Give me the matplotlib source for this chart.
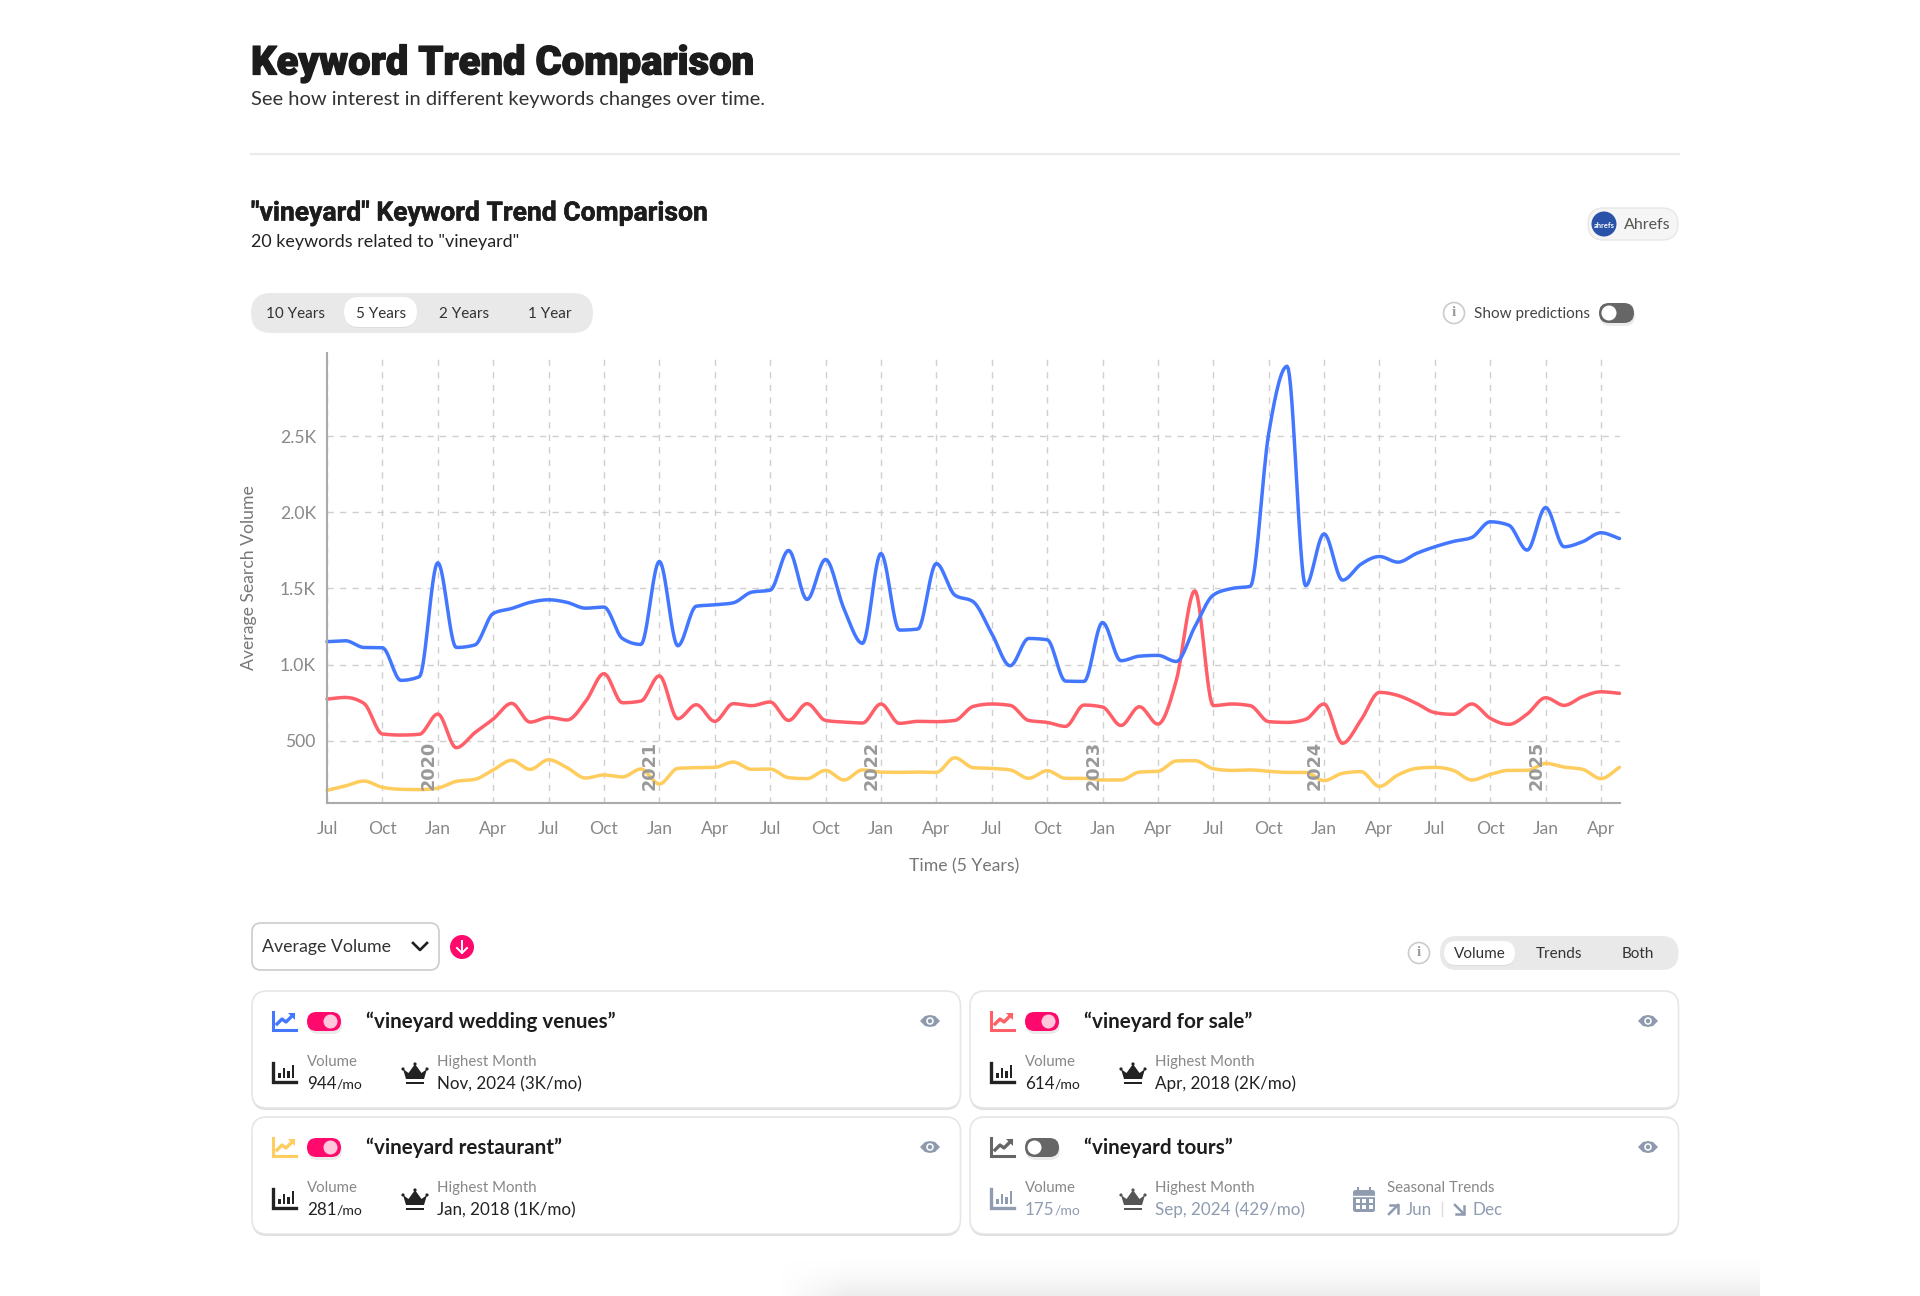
#!/usr/bin/env python3
"""Keyword trend comparison dashboard: chart plus the UI cards around it."""
import numpy as np
import matplotlib
matplotlib.use("Agg")
import matplotlib.pyplot as plt
import matplotlib.patheffects as pe
from matplotlib.patches import Circle, FancyBboxPatch, Polygon, Rectangle
from matplotlib.ticker import FixedLocator, FuncFormatter

W, H = 1920, 1296
BODY = ["Lato", "DejaVu Sans"]
HEAD = ["Roboto", "DejaVu Sans"]
PX = 0.72  # px -> pt at dpi 100

# monthly values, Jul 2019 .. May 2025
wedding_venues = [1150, 1156, 1112, 1110, 896, 920, 1668, 1112, 1128, 1335, 1368, 1408, 1425, 1408,
                  1370, 1377, 1171, 1132, 1677, 1123, 1383, 1392, 1405, 1475, 1488, 1749, 1427, 1690,
                  1365, 1139, 1729, 1226, 1233, 1663, 1456, 1412, 1204, 992, 1171, 1163, 891, 889,
                  1276, 1025, 1055, 1060, 1020, 1248, 1456, 1499, 1513, 2516, 2958, 1517, 1858, 1554,
                  1659, 1709, 1672, 1729, 1773, 1808, 1834, 1937, 1915, 1751, 2031, 1773, 1806, 1865,
                  1827]
for_sale = [773, 784, 745, 544, 537, 542, 675, 454, 552, 642, 745, 622, 653, 636, 756, 940, 749, 760,
            926, 644, 736, 627, 743, 730, 754, 633, 743, 633, 622, 616, 741, 614, 627, 625, 633, 725,
            741, 732, 633, 620, 594, 734, 721, 600, 723, 609, 898, 1484, 730, 741, 730, 625, 620, 640,
            741, 483, 636, 817, 797, 745, 684, 673, 741, 647, 607, 675, 782, 732, 789, 821, 811]
restaurant = [174, 203, 235, 194, 181, 179, 189, 233, 246, 308, 371, 312, 375, 323, 255, 275, 262, 314,
              216, 318, 323, 325, 360, 312, 314, 257, 251, 305, 242, 308, 294, 292, 294, 292, 388, 323,
              318, 308, 253, 303, 253, 253, 242, 242, 294, 299, 367, 369, 316, 305, 308, 299, 292, 292,
              238, 286, 297, 200, 275, 318, 325, 305, 242, 279, 305, 305, 351, 327, 312, 251, 325]

series_colors = ["#4377FF", "#FF5F68", "#FFCC5E"]

y_ticks = [500, 1000, 1500, 2000, 2500]
x_tick_pos = list(range(0, 70, 3))
x_tick_labels = ["Jul", "Oct", "Jan", "Apr"] * 6
year_pos = [6, 18, 30, 42, 54, 66]
year_labels = ["2020", "2021", "2022", "2023", "2024", "2025"]

range_options = ["10 Years", "5 Years", "2 Years", "1 Year"]
view_options = ["Volume", "Trends", "Both"]


def monotone(y, per=16):
    """d3/recharts style monotone cubic through monthly points, for drawing only."""
    y = np.asarray(y, float)
    d = np.diff(y)
    m = np.zeros_like(y)
    for i in range(1, len(y) - 1):
        if d[i - 1] * d[i] > 0:
            m[i] = np.sign(d[i]) * min(2 * abs(d[i - 1]), 2 * abs(d[i]), 0.5 * abs(d[i - 1] + d[i]))
    m[0], m[-1] = d[0], d[-1]
    xs, ys = [], []
    for i in range(len(y) - 1):
        t = np.linspace(0, 1, per, endpoint=False)
        h00 = 2 * t**3 - 3 * t**2 + 1
        h10 = t**3 - 2 * t**2 + t
        h01 = -2 * t**3 + 3 * t**2
        h11 = t**3 - t**2
        xs.append(i + t)
        ys.append(h00 * y[i] + h10 * m[i] + h01 * y[i + 1] + h11 * m[i + 1])
    return np.r_[np.concatenate(xs), len(y) - 1], np.r_[np.concatenate(ys), y[-1]]


fig = plt.figure(figsize=(W / 100, H / 100), dpi=100, facecolor="white")

# full page overlay in pixel coords, y downwards
ui = fig.add_axes([0, 0, 1, 1], zorder=0)
ui.set_xlim(0, W)
ui.set_ylim(H, 0)
ui.axis("off")


def txt(x, y, s, px=15, color="#222222", ha="left", weight="normal", family=BODY, **kw):
    return ui.text(x, y + 1, s, fontsize=px * PX, color=color, ha=ha, va="center",
                   fontweight=weight, family=family, **kw)


def rbox(x0, y0, x1, y1, r, fc, ec="none", lw=0, z=1):
    p = FancyBboxPatch((x0 + r, y0 + r), x1 - x0 - 2 * r, y1 - y0 - 2 * r,
                       boxstyle=f"round,pad={r},rounding_size={r}", fc=fc, ec=ec, lw=lw, zorder=z)
    ui.add_patch(p)
    return p


def info(cx, cy):
    ui.add_patch(Circle((cx, cy), 10.5, fc="white", ec="#cccccc", lw=1.2, zorder=3))
    txt(cx, cy - 1, "i", px=15, color="#999999", ha="center", weight="bold", zorder=4, family=["Liberation Serif"])


def toggle(x0, y0, x1, y1, on=True, col="#FF0A6C"):
    cy = (y0 + y1) / 2
    r = (y1 - y0) / 2
    rbox(x0 + 1, y0 + 3, x1 + 1, y1 + 3, r, "#00000014", z=2)
    rbox(x0, y0, x1, y1, r, col, z=3)
    kx = x1 - r - 1 if on else x0 + r + 0
    ui.add_patch(Circle((kx, cy), r - 2.5, fc="#FFC6DC" if on else "white", ec="none", zorder=4))


def trend_icon(x, y, col):
    # axes-with-arrow glyph, x,y = top-left, 24 wide 19 tall
    ui.plot([x + 1, x + 1, x + 24], [y, y + 18, y + 18], color=col, lw=2.2, solid_joinstyle="miter", zorder=3)
    ui.plot([x + 5, x + 10, x + 14, x + 21], [y + 12, y + 7, y + 10, y + 3], color=col, lw=2.4, zorder=3)
    ui.add_patch(Polygon([[x + 16, y + 1], [x + 23, y + 1], [x + 23, y + 8]], fc=col, ec="none", zorder=3))


def bars_icon(x, y, col):
    ui.plot([x + 1, x + 1, x + 24], [y, y + 19, y + 19], color=col, lw=2.4, solid_joinstyle="miter", zorder=3)
    for dx, h in zip([6, 10.5, 15, 19.5], [5, 10, 7, 13]):
        ui.add_patch(Rectangle((x + dx, y + 15 - h), 2.6, h, fc=col, ec="none", zorder=3))


def crown(cx, cy, col):
    pts = [[-12, -5], [-6.5, -1], [0, -10], [6.5, -1], [12, -5], [9, 5], [-9, 5]]
    ui.add_patch(Polygon([[cx + a, cy + b] for a, b in pts], fc=col, ec="none", zorder=3))
    for dx, dy in [(-12, -5), (0, -10), (12, -5)]:
        ui.add_patch(Circle((cx + dx, cy + dy), 1.6, fc=col, ec="none", zorder=3))
    ui.add_patch(Rectangle((cx - 9, cy + 7.5), 18, 2.6, fc=col, ec="none", zorder=3))


def eye(cx, cy, col="#8D99AC"):
    ui.add_patch(Polygon([[cx - 10, cy], [cx - 5, cy - 5], [cx, cy - 6], [cx + 5, cy - 5], [cx + 10, cy],
                          [cx + 5, cy + 5], [cx, cy + 6], [cx - 5, cy + 5]], fc=col, ec="none", zorder=3))
    ui.add_patch(Circle((cx, cy), 3.8, fc="white", ec="none", zorder=4))
    ui.add_patch(Circle((cx, cy), 2.2, fc=col, ec="none", zorder=5))


def calendar(cx, cy, col):
    rbox(cx - 11, cy - 10, cx + 11, cy + 12, 2.5, col, z=3)
    for dx in (-6, 6):
        ui.add_patch(Rectangle((cx + dx - 1, cy - 13), 2, 5, fc=col, ec="none", zorder=3))
    ui.plot([cx - 11, cx + 11], [cy - 4, cy - 4], color="white", lw=1, zorder=4)
    for dx in (-6.5, 0, 6.5):
        for dy in (0.5, 6.5):
            ui.add_patch(Rectangle((cx + dx - 2, cy + dy - 2), 4, 4, fc="white", ec="none", zorder=4))


def small_arrow(x0, y0, x1, y1, col):
    # short diagonal arrow with a square head, as in the seasonal row
    ui.plot([x0, x1], [y0, y1], color=col, lw=1.8, zorder=3)
    sx = np.sign(x1 - x0)
    sy = np.sign(y1 - y0)
    ui.plot([x1 - 8 * sx, x1, x1], [y1, y1, y1 - 8 * sy], color=col, lw=1.8, solid_joinstyle="miter", zorder=3)


def card(x0, y0, keyword, col, vol, best, on=True, seasonal=None):
    y1 = y0 + 117
    x1 = x0 + 708.5
    rbox(x0, y0 + 2, x1, y1 + 2, 15, "#dddddd", z=1)
    rbox(x0, y0, x1, y1, 15, "white", ec="#e6e6e6", lw=1.2, z=2)
    icon_col = col if on else "#666666"
    trend_icon(x0 + 20, y0 + 21, icon_col)
    if on:
        toggle(x0 + 55, y0 + 21, x0 + 89, y0 + 40)
    else:
        toggle(x0 + 55, y0 + 21, x0 + 89, y0 + 40, on=False, col="#666666")
    txt(x0 + 114, y0 + 30, f"\u201c{keyword}\u201d", px=20.7, weight="bold", color="#1d1d1d", zorder=3)
    eye(x0 + 678, y0 + 30)
    dark = "#222222" if on else "#8F9CB0"
    bars_icon(x0 + 20, y0 + 72, "#222222" if on else "#8F9CB0")
    txt(x0 + 55, y0 + 70, "Volume", px=15, color="#888888", zorder=3)
    t = txt(x0 + 55, y0 + 92, vol, px=17, color=dark, zorder=3)
    ui.annotate("/mo", xy=(1, 0.5), xycoords=t, xytext=(0, -0.5), textcoords="offset points", va="center",
                fontsize=14 * PX, color=dark, family=BODY, zorder=3)
    crown(x0 + 163, y0 + 83, "#222222" if on else "#555555")
    txt(x0 + 185, y0 + 70, "Highest Month", px=15, color="#888888", zorder=3)
    txt(x0 + 185, y0 + 92, best, px=17, color=dark, zorder=3)
    if seasonal:
        calendar(x0 + 394, y0 + 83, "#8F9CB0")
        txt(x0 + 417, y0 + 70, "Seasonal Trends", px=15, color="#888888", zorder=3)
        up, down = seasonal
        small_arrow(x0 + 419, y0 + 97, x0 + 428, y0 + 88, "#8F9CB0")
        txt(x0 + 436, y0 + 92, up, px=17, color="#8F9CB0", zorder=3)
        ui.plot([x0 + 472, x0 + 472], [y0 + 85, y0 + 99], color="#dddddd", lw=1, zorder=3)
        small_arrow(x0 + 485, y0 + 88, x0 + 494, y0 + 97, "#8F9CB0")
        txt(x0 + 502, y0 + 92, down, px=17, color="#8F9CB0", zorder=3)


# header
title = txt(251, 62, "Keyword Trend Comparison", px=40, color="#1c1c1c", weight="black", family=HEAD)
title.set_path_effects([pe.withStroke(linewidth=0.9, foreground="#1c1c1c")])
txt(251, 99, "See how interest in different keywords changes over time.", px=20.2, color="#333333")
ui.plot([251, 1679], [154, 154], color="#ebebeb", lw=1.6)
sub = txt(251, 212, '"vineyard" Keyword Trend Comparison', px=26.5, color="#1c1c1c", weight="bold", family=HEAD)
sub.set_path_effects([pe.withStroke(linewidth=0.4, foreground="#1c1c1c")])
txt(251, 241, '20 keywords related to "vineyard"', px=17.9, color="#222222")

# range selector
rbox(251, 293, 593, 333, 20, "#E9E9E9")
rbox(344, 298, 417, 328, 15, "#dddddd", z=2)
rbox(344, 297, 417, 327, 15, "white", z=3)
for cx, lab in zip([295, 381, 464, 550], range_options):
    txt(cx, 313, lab, px=15.2, ha="center", color="#333333", zorder=4)

# source badge + predictions switch
rbox(1588, 208, 1678, 240, 16, "#F5F5F5", ec="#e8e8e8", lw=1)
ui.add_patch(Circle((1604, 224), 12.5, fc="#2A52A8", ec="none", zorder=3))
txt(1604, 224, "ahrefs", px=7.5, ha="center", color="white", weight="bold", zorder=4)
txt(1624, 224, "Ahrefs", px=16, color="#555555", zorder=3)
info(1454, 313)
txt(1474, 313, "Show predictions", px=15.2, color="#444444")
toggle(1599, 303, 1634, 323, on=False, col="#666666")

# the chart
ax = fig.add_axes([327 / W, 1 - 803 / H, (1619.5 - 327) / W, (803 - 353) / H], zorder=1)
ax.patch.set_alpha(0)
ax.set_xlim(0, 70)
ax.set_ylim(91, 3045)
ax.xaxis.set_major_locator(FixedLocator(x_tick_pos))
ax.xaxis.set_major_formatter(FuncFormatter(lambda v, _: x_tick_labels[x_tick_pos.index(int(v))]))
ax.yaxis.set_major_locator(FixedLocator(y_ticks))
ax.yaxis.set_major_formatter(FuncFormatter(lambda v, _: "500" if v < 1000 else f"{v / 1000:.1f}K"))
ax.grid(True, color="#CFCFCF", lw=1.0, ls=(0, (4.5, 4.5)))
ax.set_axisbelow(True)
for s in ("top", "right"):
    ax.spines[s].set_visible(False)
for s in ("left", "bottom"):
    ax.spines[s].set_color("#AAAAAA")
    ax.spines[s].set_linewidth(1.5)
ax.tick_params(length=0, labelsize=17.5 * PX, labelcolor="#888888", pad=13)
ax.tick_params(axis="y", pad=8)
for lab in ax.get_xticklabels() + ax.get_yticklabels():
    lab.set_family(BODY)
for vals, col in zip([restaurant, for_sale, wedding_venues], series_colors[::-1]):
    xs, ys = monotone(vals)
    ax.plot(xs, ys, color=col, lw=2.5, solid_capstyle="round", clip_on=False)
for pos, lab in zip(year_pos, year_labels):
    ax.text(pos - 0.5, 337, lab, rotation=90, ha="center", va="center", fontsize=17.6 * PX,
            fontweight="bold", color="#999999", family="DejaVu Sans")
txt(964, 865, "Time (5 Years)", px=17.6, ha="center", color="#777777")
txt(249, 577, "Average Search Volume", px=17.6, ha="center", color="#777777", rotation=90)

# sort + view controls
rbox(252, 923, 439, 970, 9, "white", ec="#cccccc", lw=1.2)
txt(262, 946, "Average Volume", px=17.8, color="#333333", zorder=3)
ui.plot([413, 420, 427], [943, 950, 943], color="#222222", lw=1.9, zorder=3)
ui.add_patch(Circle((462, 947), 12, fc="#FF0A6C", ec="none", zorder=3))
ui.plot([462, 462], [941, 953], color="white", lw=1.4, zorder=4)
ui.plot([457, 462, 467], [948, 953, 948], color="white", lw=1.4, zorder=4)
info(1419, 953)
rbox(1440, 936, 1678.5, 970, 17, "#E9E9E9")
rbox(1444, 942, 1515, 966, 12, "#dddddd", z=2)
rbox(1444, 941, 1515, 965, 12, "white", z=3)
for cx, lab in zip([1480, 1559, 1638], view_options):
    txt(cx, 953, lab, px=15.2, ha="center", color="#333333", zorder=4)

# keyword cards
card(252, 991, "vineyard wedding venues", series_colors[0], "944", "Nov, 2024 (3K/mo)")
card(970, 991, "vineyard for sale", series_colors[1], "614", "Apr, 2018 (2K/mo)")
card(252, 1117, "vineyard restaurant", series_colors[2], "281", "Jan, 2018 (1K/mo)")
card(970, 1117, "vineyard tours", series_colors[0], "175", "Sep, 2024 (429/mo)", on=False, seasonal=("Jun", "Dec"))

# faint shadow strip along the bottom edge
grad = np.linspace(0, 1, 38)[:, None]
edge = np.clip(np.linspace(0, 1, 980) * 14, 0, 1)[None, :]
alpha = (grad ** 1.5) * edge
rgba = np.zeros((38, 980, 4))
rgba[..., :3] = 0.93
rgba[..., 3] = alpha
ui.imshow(rgba, extent=(780, 1760, 1296, 1258), aspect="auto", zorder=0, interpolation="bilinear")
ui.set_xlim(0, W)
ui.set_ylim(H, 0)

fig.savefig("out.png", dpi=100)
